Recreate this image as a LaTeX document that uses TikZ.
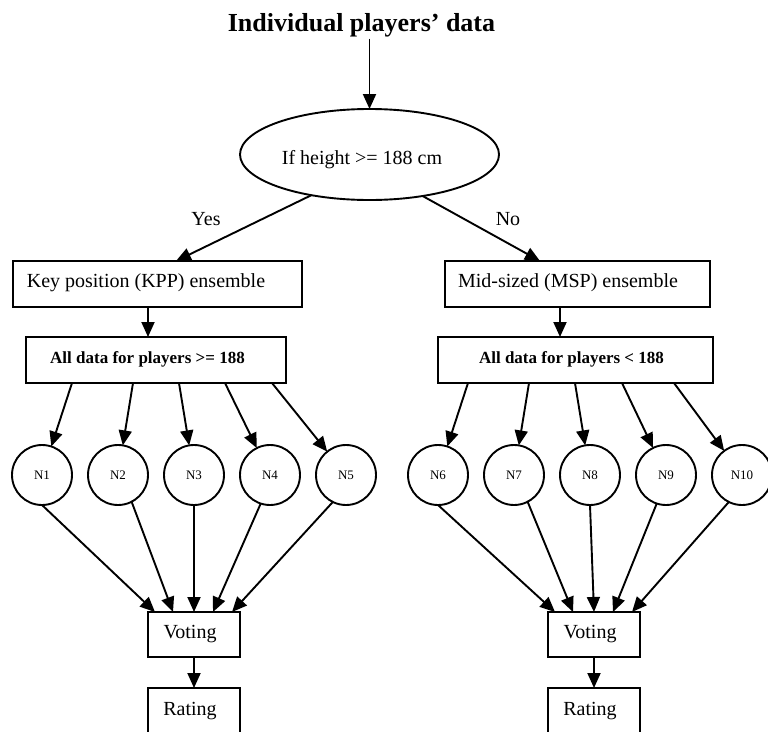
\documentclass[tikz,border=0pt]{standalone}
\usepackage{fontspec}
\setmainfont{Liberation Serif}
\usetikzlibrary{arrows.meta,shapes.geometric}
\begin{document}
\begin{tikzpicture}[x=1pt,y=-1pt,
  every node/.style={inner sep=0pt, outer sep=0pt},
  arr/.style={line width=1.9pt, -{Triangle[length=15pt,width=13pt]}},
  rbox/.style={draw, line width=1.9pt, rectangle, minimum height=46pt},
  circ/.style={draw, circle, line width=1.9pt, minimum size=60pt, font=\fontsize{13}{15}\selectfont},
  txt/.style={font=\fontsize{20}{24}\selectfont},
  btxt/.style={font=\fontsize{17}{21}\selectfont\bfseries},
]
\useasboundingbox (0,0) rectangle (768,731);
\clip (0,0) rectangle (768,731);

% title and condition
\node[font=\fontsize{26}{30}\selectfont\bfseries, anchor=base, inner sep=2pt] (title) at (361.5,31) {Individual players’ data};
\node[draw, ellipse, line width=1.9pt, minimum width=259pt, minimum height=91pt, txt,
      text height=19pt, text depth=0pt] (cond) at (369.5,154.5) {\hspace*{-15pt}If height >= 188 cm};
\draw[arr] (title.south -| cond.north) -- (cond.north);

\node[txt, anchor=base] (yes) at (206,225) {Yes};
\node[txt, anchor=base] (no) at (508,225) {No};

% ensembles
\node[rbox, minimum width=289pt, txt, text height=14pt, text depth=8pt] (kpp) at (157.5,284) {\hspace*{-23pt}Key position (KPP) ensemble};
\node[rbox, minimum width=265pt, txt, text height=14pt, text depth=8pt] (msp) at (577.5,284) {\hspace*{-19pt}Mid-sized (MSP) ensemble};
\draw[arr] (cond.215.6) -- ([xshift=163pt]kpp.north west);
\draw[arr] (cond.322) -- ([xshift=95pt]msp.north west);

% all data boxes
\node[rbox, minimum width=260pt, btxt, text height=12pt, text depth=6pt] (A) at (156,360) {\hspace*{-17pt}All data for players >= 188};
\node[rbox, minimum width=275pt, btxt, text height=12pt, text depth=6pt] (B) at (575.5,360) {\hspace*{-8pt}All data for players < 188};
\coordinate (k1) at ([xshift=-9.5pt]kpp.south);
\coordinate (m1) at ([xshift=-17.5pt]msp.south);
\draw[arr] (k1) -- (k1 |- A.north);
\draw[arr] (m1) -- (m1 |- B.north);

% networks
\node[circ] (n1) at (42,475) {N1};
\node[circ] (n2) at (118,475) {N2};
\node[circ] (n3) at (194,475) {N3};
\node[circ] (n4) at (270,475) {N4};
\node[circ] (n5) at (346,475) {N5};
\node[circ] (n6) at (438,475) {N6};
\node[circ] (n7) at (514,475) {N7};
\node[circ] (n8) at (590,475) {N8};
\node[circ] (n9) at (666,475) {N9};
\node[circ] (n10) at (742,475) {N10};

\draw[arr] ([xshift=46pt]A.south west) -- (n1);
\draw[arr] ([xshift=107pt]A.south west) -- (n2);
\draw[arr] ([xshift=153pt]A.south west) -- (n3);
\draw[arr] ([xshift=199pt]A.south west) -- (n4);
\draw[arr] ([xshift=246pt]A.south west) -- (n5);
\draw[arr] ([xshift=30pt]B.south west) -- (n6);
\draw[arr] ([xshift=91pt]B.south west) -- (n7);
\draw[arr] ([xshift=137pt]B.south west) -- (n8);
\draw[arr] ([xshift=184pt]B.south west) -- (n9);
\draw[arr] ([xshift=236pt]B.south west) -- (n10);

% voting and rating
\node[rbox, minimum width=92pt, minimum height=45pt, txt] (v1) at (194,634.5) {\hspace*{-8pt}Voting};
\node[rbox, minimum width=92pt, minimum height=45pt, txt] (v2) at (594,634.5) {\hspace*{-8pt}Voting};
\node[rbox, minimum width=92pt, minimum height=47pt, txt, anchor=north] (r1) at (194,688) {\hspace*{-8pt}Rating};
\node[rbox, minimum width=92pt, minimum height=47pt, txt, anchor=north] (r2) at (594,688) {\hspace*{-8pt}Rating};

\draw[arr] (n1.-90) -- ([xshift=-39pt]v1.north);
\draw[arr] (n2.-63) -- ([xshift=-21pt]v1.north);
\draw[arr] (n3.-90) -- (v1.north);
\draw[arr] (n4.-108) -- ([xshift=19pt]v1.north);
\draw[arr] (n5.-116) -- ([xshift=38pt]v1.north);
\draw[arr] (n6.-90) -- ([xshift=-39pt]v2.north);
\draw[arr] (n7.-63) -- ([xshift=-21pt]v2.north);
\draw[arr] (n8.-90) -- (v2.north);
\draw[arr] (n9.-108) -- ([xshift=19pt]v2.north);
\draw[arr] (n10.-116) -- ([xshift=38pt]v2.north);

\draw[arr] (v1) -- (r1);
\draw[arr] (v2) -- (r2);
\end{tikzpicture}
\end{document}
